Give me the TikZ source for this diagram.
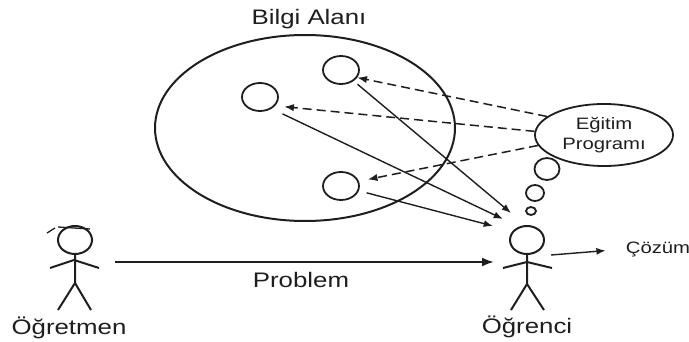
\documentclass[tikz,border=0pt]{standalone}
\usepackage{fontspec}
\setmainfont[FakeStretch=1.23]{Liberation Sans}
\usepackage{tikz}
\usetikzlibrary{arrows.meta,positioning,shapes.geometric}
\definecolor{InkGray}{HTML}{1E1E1E}

\begin{document}
\begin{tikzpicture}[x=1pt,y=-1pt,>=Latex]
\tikzstyle{bubble}=[ellipse,draw=InkGray,line width=1.8pt,inner sep=0pt]
\tikzstyle{konu}=[bubble,minimum width=36pt,minimum height=28pt]
\tikzstyle{stick}=[draw=InkGray,line width=2pt]
\tikzstyle{solid link}=[->,draw=InkGray,line width=1.4pt]
\tikzstyle{dash link}=[->,draw=InkGray,line width=1.5pt,dash pattern=on 9pt off 5pt]
\tikzstyle{big}=[text=InkGray,inner sep=0pt,font=\fontsize{21}{24}\selectfont]
\tikzstyle{small}=[text=InkGray,inner sep=0pt,align=center,font=\fontsize{16.5}{20}\selectfont]
\useasboundingbox (0,0) rectangle (689,342);
% knowledge area
\node[bubble,line width=2pt,minimum width=300pt,minimum height=186pt] (alan) at (305,128) {};
\node[big] (alanAd) at (309,19) {Bilgi Alanı};
\node[konu] (konuTop) at (341,70) {};
\node[konu] (konuLeft) at (260,97) {};
\node[konu] (konuBot) at (341,186) {};
% thought cloud
\node[bubble,minimum width=138pt,minimum height=62pt,small] (prog) at (604,135) {Eğitim\\Programı};
\node[bubble,minimum width=25pt,minimum height=22pt] (cloudA) at (547,169) {};
\node[bubble,minimum width=18pt,minimum height=16pt] (cloudB) at (535,193) {};
\node[bubble,minimum width=10pt,minimum height=8pt] (cloudC) at (531,211) {};
% teacher
\node[bubble,stick,minimum width=34pt,minimum height=28pt] (ogtHead) at (75,240) {};
\draw[stick] (ogtHead.south) -- ++(0,28) coordinate (ogtHip) -- ++(-17,27);
\draw[stick] (ogtHip) -- ++(16,27);
\draw[stick] (50,268) -- (74,260) -- (99,268);
\draw[stick,line width=1.3pt] (47,233) -- (55,228);
\draw[stick,line width=1.3pt] (58,227) -- (90,229);
\node[big] (ogretmen) at (69,328) {Öğretmen};
% student
\node[bubble,stick,minimum width=34pt,minimum height=28pt] (ogrHead) at (527,240) {};
\draw[stick] (ogrHead.south) -- ++(0,29) coordinate (ogrHip) -- ++(-16,26);
\draw[stick] (ogrHip) -- ++(17,26);
\draw[stick] (503,268) -- (527,262) -- (552,268);
\node[big] (ogrenci) at (527,327) {Öğrenci};
\node[small] (cozum) at (658,249) {Çözüm};
% free ends
\coordinate (ogtHand) at (115,262);
\coordinate (ogrHand) at (494,262);
\coordinate (ogrArm) at (551,255);
\coordinate (inTop) at (511,213);
\coordinate (inLeft) at (503,219);
\coordinate (inBot) at (493,226);
% links
\draw[->,draw=InkGray,line width=2pt] (ogtHand) -- (ogrHand);
\node[big] (problem) at (301,280) {Problem};
\draw[solid link] (ogrArm) -- (cozum.west) [shorten >=20pt];
\draw[solid link,shorten <=5pt] (konuTop.-41) -- (inTop);
\draw[solid link,shorten <=12pt] (konuLeft.-45) -- (inLeft);
\draw[solid link,shorten <=8pt] (konuBot.-15) -- (inBot);
\draw[dash link] (prog.162) -- (konuTop.-25);
\draw[dash link,shorten >=9pt] (prog.177) -- (konuLeft.-30);
\draw[dash link,shorten >=9pt] (prog.189) -- (konuBot.15);
\end{tikzpicture}
\end{document}
